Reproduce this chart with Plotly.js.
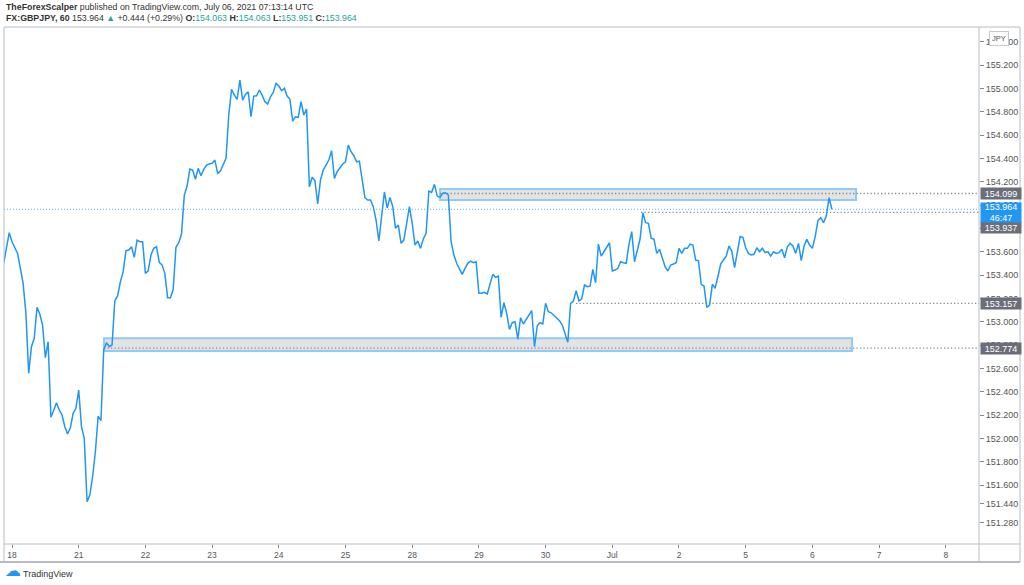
<!DOCTYPE html>
<html>
<head>
<meta charset="utf-8">
<script src="https://cdn.plot.ly/plotly-3.0.1.min.js"></script>
<style>html,body{margin:0;padding:0;background:#fff;}#chart{width:1024px;height:585px;}</style>
</head>
<body>
<div id="chart"></div>
<script>
// ---- Data (GBPJPY, 60-minute closes) ----
const startHour = -3; // first bar: 3 hours before the "18" day boundary
const prices = [
153.501,153.63,153.763,153.686,153.64,153.586,153.458,153.329,153.072,152.558,
152.786,152.858,153.124,153.066,152.972,152.692,152.829,152.181,152.24,152.306,
152.244,152.201,152.101,152.038,152.092,152.215,152.258,152.415,152.101,152.001,
151.458,151.515,151.672,151.886,152.192,152.152,152.758,152.820,152.786,152.801,
153.180,153.221,153.343,153.429,153.609,153.615,153.643,153.552,153.700,153.686,
153.686,153.415,153.437,153.572,153.629,153.643,153.509,153.486,153.415,153.206,
153.206,153.278,153.638,153.677,153.752,154.086,154.163,154.309,154.300,154.221,
154.315,154.251,154.306,154.343,154.352,154.358,154.386,154.272,154.292,154.352,
154.400,154.772,154.992,154.943,154.906,155.071,154.900,154.949,154.971,154.757,
154.934,154.937,154.986,154.943,154.886,154.866,154.928,154.966,155.043,155.020,
154.980,155.000,154.934,154.906,154.720,154.757,154.752,154.886,154.772,154.823,
154.157,154.238,154.209,154.009,154.215,154.300,154.343,154.386,154.466,154.229,
154.286,154.323,154.352,154.371,154.514,154.457,154.423,154.371,154.377,154.215,
154.063,154.043,154.043,153.986,153.872,153.692,153.900,154.112,153.975,154.066,
153.986,153.801,153.829,153.672,153.700,153.844,153.986,153.844,153.658,153.692,
153.629,153.709,153.758,154.120,154.109,154.178,154.077,154.066,154.101,154.106,
154.086,153.686,153.572,153.501,153.449,153.406,153.458,153.501,153.520,153.506,
153.514,153.244,153.244,153.252,153.238,153.315,153.406,153.381,153.392,153.038,
153.163,153.072,152.935,152.992,153.000,152.852,153.035,152.981,153.021,153.058,
153.095,152.786,152.966,152.992,152.981,153.158,153.086,153.077,153.052,153.035,
153.009,152.972,152.906,152.824,153.158,153.178,153.266,153.178,153.197,153.315,
153.300,153.306,153.449,153.334,153.666,153.563,153.600,153.643,153.677,153.435,
153.443,153.458,153.514,153.506,153.501,153.666,153.772,153.514,153.615,153.709,
153.934,153.849,153.844,153.715,153.709,153.586,153.621,153.552,153.472,153.435,
153.486,153.495,153.506,153.629,153.586,153.629,153.629,153.666,153.658,153.529,
153.523,153.321,153.306,153.124,153.143,153.321,153.287,153.386,153.495,153.529,
153.563,153.649,153.606,153.463,153.600,153.729,153.724,153.634,153.586,153.572,
153.578,153.634,153.600,153.629,153.592,153.600,153.563,153.600,153.586,153.592,
153.621,153.549,153.643,153.672,153.649,153.586,153.672,153.523,153.649,153.706,
153.658,153.629,153.729,153.866,153.892,153.849,153.906,154.063,153.964
];
const dayLabels = ["18","21","22","23","24","25","28","29","30","Jul","2","5","6","7","8"];
const priceTicks = [155.4,155.2,155.0,154.8,154.6,154.4,154.2,154.0,153.8,153.6,153.4,153.2,153.0,152.8,152.6,152.4,152.2,152.0,151.8,151.6,151.44,151.28];

// drawn levels / zones (prices) and their start day
const upperZone = [154.043, 154.137];
const upperZoneDays = [6.417, 12.654];
const lowerZone = [152.749, 152.858];
const lowerZoneDays = [1.379, 12.594];
const levelPrices = [154.099, 153.937, 153.157, 152.774];
const levelStartDays = [6.417, 9.43, 8.456, 1.379];
const lastPrice = 153.964;
const countdown = '46:47';

// ---- Build ----
const xs = prices.map((p, i) => (startHour + i) / 24);
const xRange = [-0.12, 14.498];
const yRange = [151.0955, 155.526];
const font = "'Liberation Sans', Arial, sans-serif";
const teal = '#26a69a';
const frame = '#b8bcc4';

const trace = {
  x: xs, y: prices, type: 'scatter', mode: 'lines',
  line: {color: '#2196f3', width: 1.5}, hoverinfo: 'skip'
};

const shapes = [];
shapes.push({type:'line', xref:'x', yref:'y', x0:xRange[0], x1:xRange[1], y0:lastPrice, y1:lastPrice,
  line:{color:'#64b5f6', width:1, dash:'1px,2px'}, layer:'below'});
[[upperZone, upperZoneDays],[lowerZone, lowerZoneDays]].forEach(([z, d]) => {
  shapes.push({type:'rect', xref:'x', yref:'y', x0:d[0], x1:d[1], y0:z[0], y1:z[1],
    fillcolor:'rgba(200,200,200,0.5)', line:{color:'#90caf9', width:2}, layer:'below'});
});
levelPrices.forEach((p, i) => {
  shapes.push({type:'line', xref:'x', yref:'y', x0:levelStartDays[i], x1:xRange[1], y0:p, y1:p,
    line:{color:'#8a8d96', width:1.3, dash:'1.3px,2.2px'}, layer:'below'});
});
const px = v => (v - 4) / 975;
const py = v => (544 - v) / 517;
const fl = (x0,y0,x1,y1,w) => shapes.push({type:'line', xref:'paper', yref:'paper', x0:px(x0), x1:px(x1), y0:py(y0), y1:py(y1), line:{color:frame, width:w||1}});
fl(4,27,4,562); fl(4,27,1020,27); fl(1020,27,1020,562); fl(0,562,1020,562,2);
fl(979,27,979,562); fl(4,544,1020,544);

const annotations = [];
const badge = (txt, price, bg, shift, h) => annotations.push({
  xref:'paper', yref:'y', x:px(980), y:price, xanchor:'left', yanchor:'middle', yshift:shift||0,
  text:txt, showarrow:false, bgcolor:bg, width:40, height:h||11, borderpad:0, align:'center',
  font:{family:font, size:9, color:'#ffffff'}
});
badge(levelPrices[0].toFixed(3), levelPrices[0], '#6b6e78');
badge(levelPrices[2].toFixed(3), levelPrices[2], '#6b6e78');
badge(levelPrices[3].toFixed(3), levelPrices[3], '#6b6e78');
badge(levelPrices[1].toFixed(3), levelPrices[1], '#6b6e78', -14.6);
badge(lastPrice.toFixed(3) + '<br>' + countdown, lastPrice, '#2196f3', -3, 19);

annotations.push({xref:'paper', yref:'paper', x:px(999), y:py(39), xanchor:'center', yanchor:'middle',
  text:'JPY', showarrow:false, bgcolor:'#ffffff', bordercolor:'#c8c8c8', borderwidth:1, borderpad:2,
  font:{family:font, size:7.5, color:'#555'}});

annotations.push({xref:'paper', yref:'paper', x:px(4), y:py(6.5), xanchor:'left', yanchor:'middle', showarrow:false,
  text:'<b>TheForexScalper</b> published on TradingView.com, July 06, 2021 07:13:14 UTC',
  font:{family:font, size:8.8, color:'#333'}});
annotations.push({xref:'paper', yref:'paper', x:px(4), y:py(18.5), xanchor:'left', yanchor:'middle', showarrow:false,
  text:'<b>FX:GBPJPY, 60</b> 153.964 <span style="color:'+teal+'">▲</span> +0.444 (+0.29%) <b>O:</b><span style="color:'+teal+'">154.063</span> <b>H:</b><span style="color:'+teal+'">154.063</span> <b>L:</b><span style="color:'+teal+'">153.951</span> <b>C:</b><span style="color:'+teal+'">153.964</span>',
  font:{family:font, size:8.8, color:'#333'}});

annotations.push({xref:'paper', yref:'paper', x:px(3), y:py(570), xanchor:'left', yanchor:'middle', showarrow:false,
  text:'☁', font:{family:"'DejaVu Sans', sans-serif", size:16, color:'#2196f3'}});
annotations.push({xref:'paper', yref:'paper', x:px(21), y:py(573.5), xanchor:'left', yanchor:'middle', showarrow:false,
  text:'TradingView', font:{family:font, size:9, color:'#333'}});

const layout = {
  width:1024, height:585,
  margin:{l:4, r:45, t:27, b:41, pad:0},
  paper_bgcolor:'#ffffff', plot_bgcolor:'#ffffff',
  showlegend:false,
  xaxis:{range:xRange, tickmode:'array', tickvals:dayLabels.map((_, i) => i), ticktext:dayLabels,
    ticks:'outside', ticklen:3, tickcolor:'#888', showgrid:false, zeroline:false, showline:false,
    tickfont:{family:font, size:8.5, color:'#555'}, fixedrange:true},
  yaxis:{range:yRange, side:'right', tickmode:'array', tickvals:priceTicks, ticktext:priceTicks.map(v => v.toFixed(3)),
    ticks:'outside', ticklen:4, tickcolor:'#888', showgrid:false, zeroline:false, showline:false,
    tickfont:{family:font, size:9, color:'#555'}, fixedrange:true},
  shapes:shapes, annotations:annotations
};

Plotly.newPlot('chart', [trace], layout, {staticPlot:true, displayModeBar:false});
</script>
</body>
</html>
